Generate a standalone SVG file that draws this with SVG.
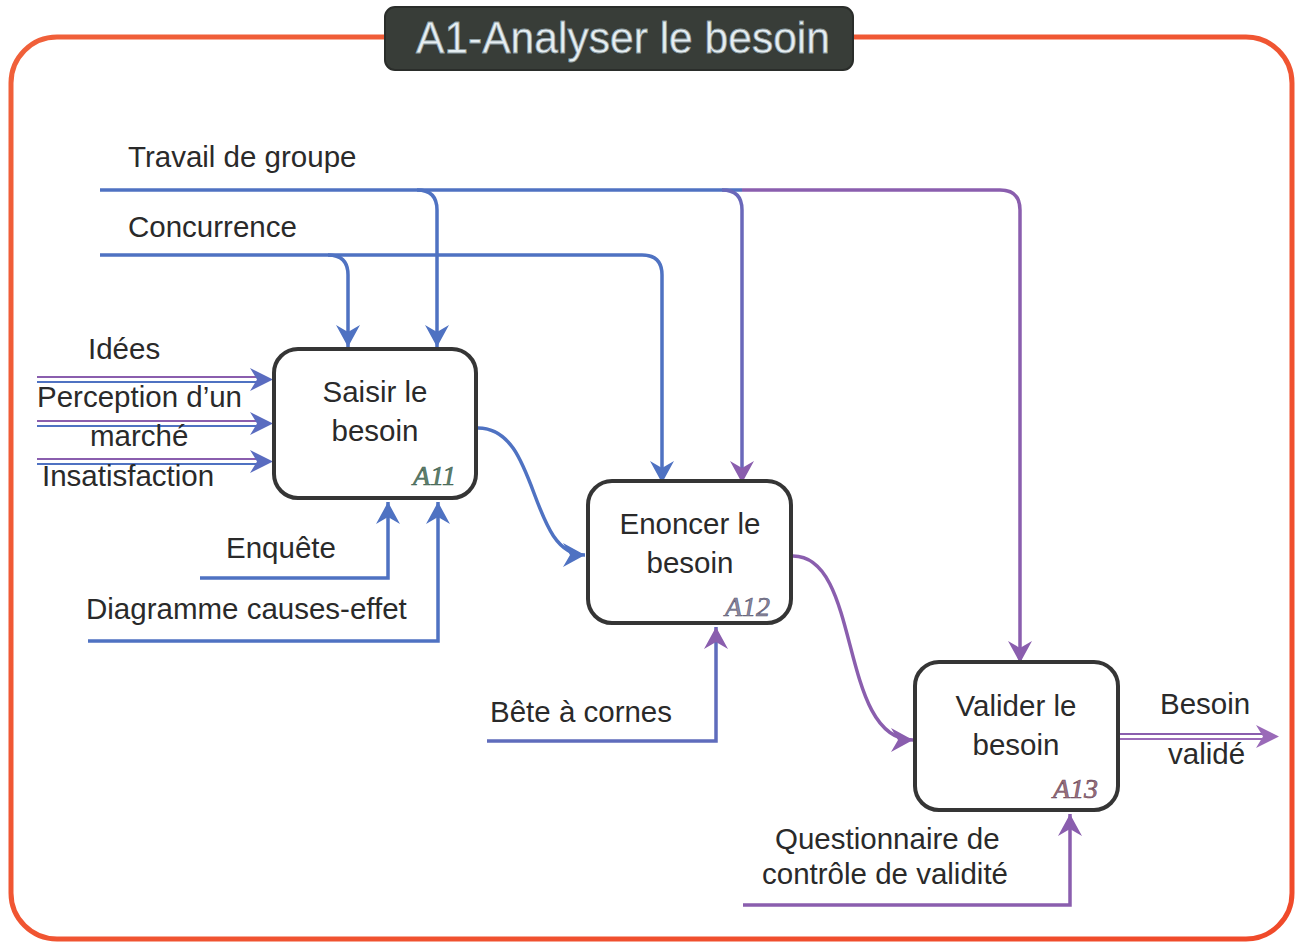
<svg xmlns="http://www.w3.org/2000/svg" width="1297" height="946" viewBox="0 0 1297 946">
<defs>
<style>
.lbl{font-family:"Liberation Sans",Arial,sans-serif;font-size:29.5px;fill:#2a2a2a}
.box{fill:#ffffff;stroke:#353535;stroke-width:4}
.code{font-family:"Liberation Serif","Times New Roman",serif;font-style:italic;font-size:28px;stroke-width:0.6}
.cb{fill:none;stroke:#4f72c2;stroke-width:3.5}
.cp{fill:none;stroke:#8a5eae;stroke-width:3.5}
.thin-b{fill:none;stroke:#4f72c2;stroke-width:2.2}
.thin-p{fill:none;stroke:#8a5eae;stroke-width:2.2}
</style>
<marker id="ab" viewBox="0 0 22 24" refX="22" refY="12" markerWidth="22" markerHeight="24" markerUnits="userSpaceOnUse" orient="auto">
<path d="M0,0 L22,12 L0,24 L7,12 z" fill="#4f72c2"/>
</marker>
<marker id="ap" viewBox="0 0 22 24" refX="22" refY="12" markerWidth="22" markerHeight="24" markerUnits="userSpaceOnUse" orient="auto">
<path d="M0,0 L22,12 L0,24 L7,12 z" fill="#8a5eae"/>
</marker>
<linearGradient id="frameg" x1="0" y1="0" x2="1" y2="1">
<stop offset="0" stop-color="#f0603a"/>
<stop offset="1" stop-color="#f04a2a"/>
</linearGradient>
</defs>
<rect width="1297" height="946" fill="#ffffff"/>
<g id="frame">
<rect x="11" y="37" width="1281" height="902" rx="46" ry="46" fill="none" stroke="url(#frameg)" stroke-width="5"/>
</g>
<g id="title">
<rect x="385" y="7" width="468" height="63" rx="10" ry="10" fill="#383d38" stroke="#2a2d2a" stroke-width="2"/>
<text x="416" y="53" textLength="414" lengthAdjust="spacingAndGlyphs" font-family="'Liberation Sans',Arial,sans-serif" font-size="45" fill="#e6eef2" stroke="#8a9aa0" stroke-width="0.8">A1-Analyser le besoin</text>
</g>
<g id="connectors">
<path class="cb" d="M100,190 H742"/>
<path class="cp" d="M742,190 H1000 Q1020,190 1020,210 V663" marker-end="url(#ap)"/>
<path class="cb" d="M417,190 Q437,190 437,210 V347" marker-end="url(#ab)"/>
<path class="cb" d="M722,190 Q742,190 742,210 V483" style="stroke:#6a68ba" marker-end="url(#ap)"/>
<path class="cb" d="M100,255 H642 Q662,255 662,275 V483" marker-end="url(#ab)"/>
<path class="cb" d="M328,255 Q348,255 348,275 V347" marker-end="url(#ab)"/>
<path class="thin-p" d="M37,377 H262"/>
<path class="thin-b" d="M37,382 H262"/>
<path d="M250,368 L273,379.5 L250,391 L257,379.5 z" fill="#5a6cc0"/>
<path class="thin-p" d="M37,421 H262"/>
<path class="thin-b" d="M37,426 H262"/>
<path d="M250,412 L273,423.5 L250,435 L257,423.5 z" fill="#5a6cc0"/>
<path class="thin-p" d="M37,459 H262"/>
<path class="thin-b" d="M37,464 H262"/>
<path d="M250,450 L273,461.5 L250,473 L257,461.5 z" fill="#5a6cc0"/>
<path class="cb" d="M200,578 H388 V502" marker-end="url(#ab)"/>
<path class="cb" d="M88,641 H438 V502" marker-end="url(#ab)"/>
<path class="cb" d="M487,741 H716 V627" style="stroke:#5f6cbc" marker-end="url(#ap)"/>
<path class="cp" d="M743,905 H1070 V814" marker-end="url(#ap)"/>
<path class="cb" d="M478,428 C540,428 528,555 585,555" marker-end="url(#ab)"/>
<path class="cp" d="M793,556 C862,556 838,740 913,740" marker-end="url(#ap)"/>
<path class="thin-p" d="M1120,734 H1262"/>
<path class="thin-p" d="M1120,739 H1262" style="stroke:#9a6ab8"/>
<path d="M1256,725 L1279,736.5 L1256,748 L1263,736.5 z" fill="#9a6ab8"/>
</g>
<g id="labels">
<text class="lbl" x="128" y="167">Travail de groupe</text>
<text class="lbl" x="128" y="237">Concurrence</text>
<text class="lbl" x="88" y="359">Idées</text>
<text class="lbl" x="37" y="407">Perception d’un</text>
<text class="lbl" x="90" y="446">marché</text>
<text class="lbl" x="42" y="486">Insatisfaction</text>
<text class="lbl" x="226" y="558">Enquête</text>
<text class="lbl" x="86" y="619">Diagramme causes-effet</text>
<text class="lbl" x="490" y="722">Bête à cornes</text>
<text class="lbl" x="775" y="849">Questionnaire de</text>
<text class="lbl" x="762" y="884">contrôle de validité</text>
<text class="lbl" x="1160" y="714">Besoin</text>
<text class="lbl" x="1168" y="764">validé</text>
</g>
<g id="A11">
<rect class="box" x="274" y="349" width="202" height="149" rx="24" ry="24"/>
<text class="lbl" x="375" y="402" text-anchor="middle">Saisir le</text>
<text class="lbl" x="375" y="441" text-anchor="middle">besoin</text>
<text class="code" x="456" y="485" text-anchor="end" fill="#5d7f6c" stroke="#3f5f50">A11</text>
</g>
<g id="A12">
<rect class="box" x="588" y="481" width="203" height="142" rx="24" ry="24"/>
<text class="lbl" x="690" y="534" text-anchor="middle">Enoncer le</text>
<text class="lbl" x="690" y="573" text-anchor="middle">besoin</text>
<text class="code" x="770" y="616" text-anchor="end" fill="#8a88a0" stroke="#5a5870">A12</text>
</g>
<g id="A13">
<rect class="box" x="915" y="662" width="203" height="148" rx="24" ry="24"/>
<text class="lbl" x="1016" y="716" text-anchor="middle">Valider le</text>
<text class="lbl" x="1016" y="755" text-anchor="middle">besoin</text>
<text class="code" x="1098" y="798" text-anchor="end" fill="#9a7080" stroke="#6a4858">A13</text>
</g>
</svg>
